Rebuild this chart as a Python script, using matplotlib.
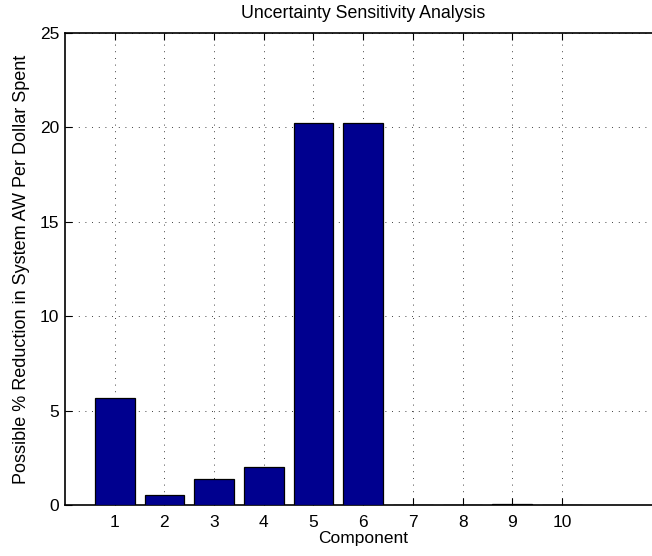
import matplotlib
matplotlib.use("Agg")
import matplotlib.pyplot as plt

# Sensitivity of system AW to each component's uncertainty
components = [1, 2, 3, 4, 5, 6, 7, 8, 9, 10]
reduction = [5.65, 0.53, 1.37, 2.0, 20.25, 20.25, 0.0, 0.0, 0.03, 0.0]
yticks = [0, 5, 10, 15, 20, 25]

plt.rcParams['font.family'] = ['Liberation Sans', 'DejaVu Sans']
plt.rcParams['font.size'] = 12.5

fig = plt.figure(figsize=(6.52, 5.56), dpi=100)
ax = fig.add_axes([0.0997, 0.0917, 0.9147, 0.849])

ax.bar(components, reduction, width=0.8, color=(0, 0, 0.5625),
       edgecolor='black', linewidth=0.9, zorder=3)

ax.set_xlim(0, 12)
ax.set_ylim(0, 25)
ax.set_xticks(components)
ax.set_yticks(yticks)

ax.grid(True, color='black', linestyle=(0, (1, 7)), linewidth=0.6, zorder=0)
ax.tick_params(direction='in', length=5, width=0.8, top=True, right=True,
               labelsize=12.5)
ax.tick_params(axis='x', pad=7)
ax.tick_params(axis='y', pad=4)
for s in ax.spines.values():
    s.set_linewidth(1.2)

ax.set_title('Uncertainty Sensitivity Analysis', fontsize=12.75, pad=11)
ax.set_xlabel('Component', fontsize=12.5, labelpad=1)
ax.set_ylabel('Possible % Reduction in System AW Per Dollar Spent', fontsize=13,
              labelpad=7)

fig.savefig('out.png', dpi=100)
